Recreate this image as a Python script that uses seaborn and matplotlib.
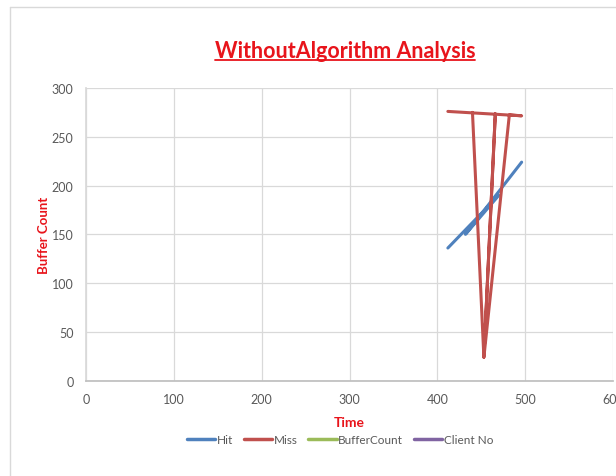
import matplotlib
matplotlib.use("Agg")
import matplotlib.pyplot as plt
from matplotlib.lines import Line2D
import seaborn as sns
import pandas as pd

# ---- data ----
hit_time = [412, 470, 432, 496]
hit_vals = [136, 190, 150, 224]

miss_time = [412, 496, 482, 453, 466, 453, 440]
miss_vals = [276, 271.5, 272.5, 24, 273.5, 24, 275]

series_names = ["Hit", "Miss", "BufferCount", "Client No"]
series_colors = ["#4F81BD", "#C0504D", "#9BBB59", "#8064A2"]

x_ticks = [0, 100, 200, 300, 400, 500, 600]
y_ticks = [0, 50, 100, 150, 200, 250, 300]

title_text = "WithoutAlgorithm Analysis"
x_label = "Time"
y_label = "Buffer Count"

sns.set_theme(style="white")
plt.rcParams["font.family"] = ["Lato", "DejaVu Sans"]

fig = plt.figure(figsize=(6.16, 4.77), dpi=100)
ax = fig.add_axes([86 / 616, 1 - 381.7 / 477, 527 / 616, 292.7 / 477])

df_hit = pd.DataFrame({"Time": hit_time, "Value": hit_vals})
df_miss = pd.DataFrame({"Time": miss_time, "Value": miss_vals})
sns.lineplot(data=df_hit, x="Time", y="Value", sort=False, estimator=None,
             color=series_colors[0], linewidth=2.2, ax=ax)
sns.lineplot(data=df_miss, x="Time", y="Value", sort=False, estimator=None,
             color=series_colors[1], linewidth=2.2, ax=ax)

ax.set_xlim(0, 600)
ax.set_ylim(0, 300)
ax.set_xticks(x_ticks)
ax.set_yticks(y_ticks)
ax.grid(True, color="#D9D9D9", linewidth=0.9)
ax.set_axisbelow(True)
for s in ["top", "right"]:
    ax.spines[s].set_visible(False)
ax.spines["left"].set_color("#D9D9D9")
ax.spines["bottom"].set_color("#BFBFBF")
ax.tick_params(axis="both", length=0, labelsize=9, labelcolor="#595959", pad=9)

ax.set_xlabel(x_label, color="#E8141B", fontweight="bold", fontsize=10, labelpad=8)
ax.set_ylabel(y_label, color="#E8141B", fontweight="bold", fontsize=9.5, labelpad=1.5)

fig.text(345 / 616, 1 - 51 / 477, title_text, color="#E8141B", fontweight="bold",
         fontsize=15.5, ha="center", va="center")
# underline
t = fig.texts[-1]
fig.canvas.draw()
bb = t.get_window_extent()
fig.add_artist(Line2D([bb.x0 / 616, bb.x1 / 616],
                      [(bb.y0 + 1) / 477, (bb.y0 + 1) / 477],
                      color="#E8141B", linewidth=1.3))

handles = [Line2D([], [], color=c, linewidth=2.5) for c in series_colors]
fig.legend(handles, series_names, loc="center", bbox_to_anchor=(340 / 616, 1 - 441 / 477),
           ncol=4, frameon=False, fontsize=8.5, labelcolor="#595959",
           handlelength=2.4, handletextpad=0.15, columnspacing=0.9)

# outer chart border
fig.add_artist(Line2D([9.5 / 616, 9.5 / 616], [0, 1 - 7.5 / 477], color="#D9D9D9", linewidth=1))
fig.add_artist(Line2D([9.5 / 616, 1], [1 - 7.5 / 477, 1 - 7.5 / 477], color="#D9D9D9", linewidth=1))

fig.savefig("out.png", dpi=100)
